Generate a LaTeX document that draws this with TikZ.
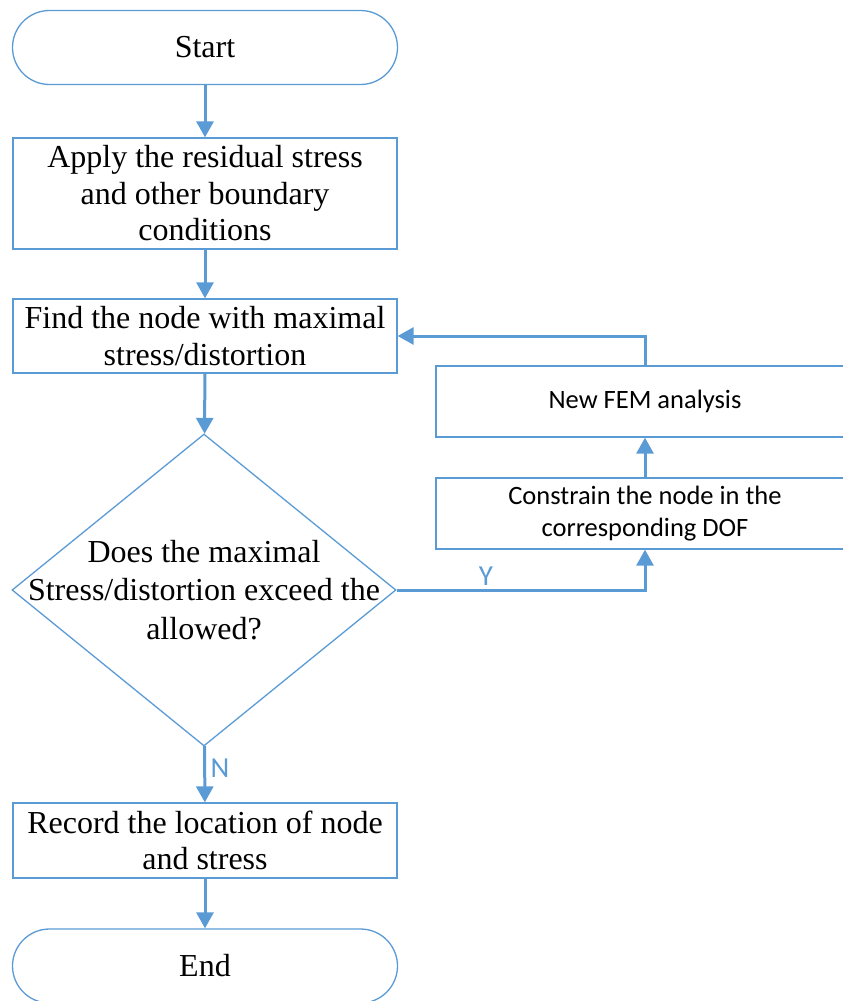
\documentclass[tikz,border=0pt]{standalone}
\usepackage{fontspec}
\setmainfont{Liberation Serif}
\newfontfamily\calfont{Carlito}
\usetikzlibrary{arrows.meta,shapes.geometric}
\definecolor{flowblue}{RGB}{91,155,213}
\tikzset{
  base/.style={draw=flowblue, line width=1.3pt, align=center, inner sep=2pt,
    font=\fontsize{32}{36.5}\selectfont},
  term/.style={base, rounded corners=37pt, minimum width=385pt, minimum height=74pt},
  procbox/.style={base, minimum width=384pt},
  sidebox/.style={base, minimum width=418pt, minimum height=71pt,
    font=\calfont\fontsize{26.5}{32}\selectfont},
  decide/.style={base, diamond, minimum width=384pt, minimum height=312pt, inner sep=0pt},
  arr/.style={draw=flowblue, line width=3pt, -{Triangle[length=16pt,width=17pt]}},
  flag/.style={text=flowblue, font=\calfont\fontsize{29}{32}\selectfont}
}
\begin{document}
\begin{tikzpicture}[x=1pt, y=-1pt]
  \useasboundingbox (0,0) rectangle (843,1001);

  % main column
  \node[term] (start) at (205,47.5) {Start};
  \node[procbox, minimum height=111pt] (apply) at (205,193.5)
    {Apply the residual stress\\and other boundary\\conditions};
  \node[procbox, minimum height=74pt] (find) at (205,336)
    {Find the node with maximal\\stress/distortion};
  \node[decide, label={[align=center, font=\fontsize{32}{38.5}\selectfont]center:Does the maximal\\Stress/distortion exceed the\\allowed?}]
    (check) at (204,590) {};
  \node[procbox, minimum height=75pt] (record) at (205,840.5)
    {Record the location of node\\and stress};
  \node[term] (stop) at (205,966) {End};

  % loop on the right
  \node[sidebox] (constrain) at (645,513.5)
    {Constrain the node in the\\corresponding DOF};
  \node[sidebox] (fem) at (645,401.5) {New FEM analysis};

  \draw[arr] (start) -- (apply);
  \draw[arr] (apply) -- (find);
  \draw[arr] (find) -- (check);
  \draw[arr] (check) -- node[flag, right, xshift=1pt, pos=0.4] {N} (record);
  \draw[arr] (record) -- (stop);
  \draw[arr] (check.east) -| node[flag, above, pos=0.18] {Y} (constrain.south);
  \draw[arr] (constrain) -- (fem);
  \draw[arr] (fem.north) |- (find.east);
\end{tikzpicture}
\end{document}
